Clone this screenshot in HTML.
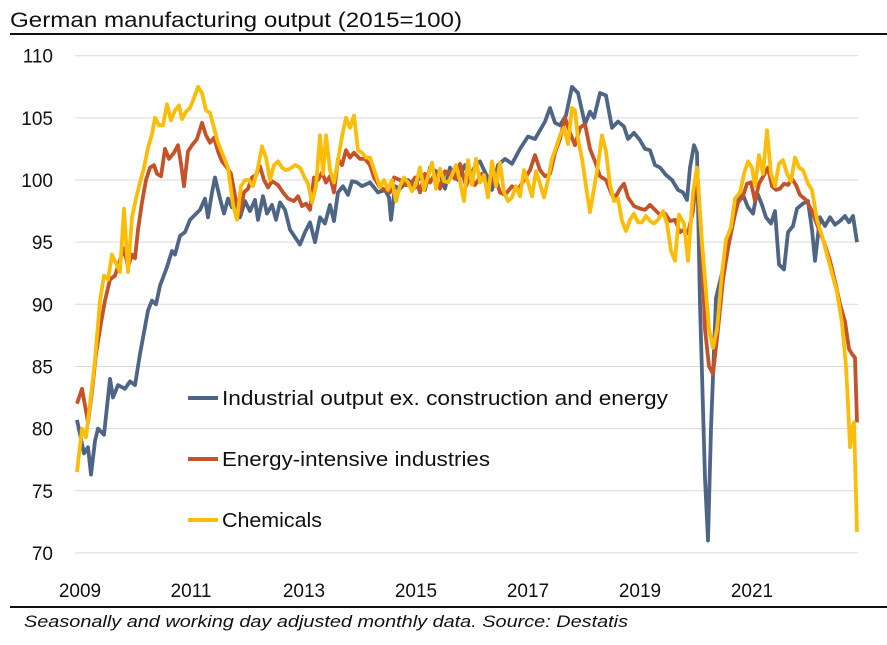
<!DOCTYPE html>
<html><head><meta charset="utf-8"><style>
body{margin:0;background:#fff;width:887px;height:640px;overflow:hidden;font-family:"Liberation Sans",sans-serif}
</style></head><body>
<svg id="s" width="887" height="640" xmlns="http://www.w3.org/2000/svg" font-family="Liberation Sans, sans-serif">
<text x="10" y="27" font-size="21" fill="#111" textLength="452" lengthAdjust="spacingAndGlyphs">German manufacturing output (2015=100)</text>
<line x1="10" y1="34" x2="887" y2="34" stroke="#111" stroke-width="2"/>
<g id="grid" stroke="#d9d9d9" stroke-width="1"></g>
<g id="ylab" font-size="19" fill="#111" text-anchor="end"></g>
<g font-size="19" fill="#111" text-anchor="middle">
<text x="80" y="597">2009</text><text x="191" y="597">2011</text><text x="304" y="597">2013</text><text x="416" y="597">2015</text><text x="528" y="597">2017</text><text x="640" y="597">2019</text><text x="752" y="597">2021</text>
</g>
<line x1="10" y1="607" x2="887" y2="607" stroke="#111" stroke-width="2"/>
<text x="24" y="627" font-size="17" font-style="italic" fill="#111" textLength="604" lengthAdjust="spacingAndGlyphs">Seasonally and working day adjusted monthly data. Source: Destatis</text>
<g id="lines" fill="none" stroke-width="3.8" stroke-linejoin="round"></g>
<g font-size="20" fill="#111">
<line x1="188" y1="398" x2="218" y2="398" stroke="#4e6585" stroke-width="4"/><text x="222" y="405" textLength="446" lengthAdjust="spacingAndGlyphs">Industrial output ex. construction and energy</text>
<line x1="188" y1="459" x2="218" y2="459" stroke="#c5532a" stroke-width="4"/><text x="222" y="466" textLength="268" lengthAdjust="spacingAndGlyphs">Energy-intensive industries</text>
<line x1="188" y1="520" x2="218" y2="520" stroke="#fbbd0a" stroke-width="4"/><text x="222" y="527" textLength="100" lengthAdjust="spacingAndGlyphs">Chemicals</text>
</g>
</svg>
<script>
var Y=function(v){return 180-(v-100)*12.43;};
var g=document.getElementById('grid'),yl=document.getElementById('ylab'),NS='http://www.w3.org/2000/svg';
for(var v=70;v<=110;v+=5){var l=document.createElementNS(NS,'line');l.setAttribute('x1',75);l.setAttribute('x2',858);l.setAttribute('y1',Y(v));l.setAttribute('y2',Y(v));g.appendChild(l);
var t=document.createElementNS(NS,'text');t.setAttribute('x',53);t.setAttribute('y',Y(v)+7);t.textContent=v;yl.appendChild(t);}
var blue=[77,80.7,84,78,88,78.5,91,76.3,95,79,98,80,104,79.5,110,84,113,82.5,118,83.5,125,83.2,130,83.8,135,83.5,140,86,148,89.5,152,90.3,156,90,160,91.5,167,93,172,94.3,175,94,180,95.5,185,95.8,190,96.8,195,97.2,200,97.6,205,98.5,208,97,212,99,215,100.2,220,98.5,224,97.3,228,98.5,232,97.8,236,98,240,97,245,98.3,250,97.5,255,98.4,258,96.8,263,98.7,267,97.3,272,98,276,96.8,280,98.2,285,97.6,290,96,295,95.4,300,94.8,305,95.8,310,96.6,315,95,320,97,325,96.5,330,98,334,96.7,338,99,343,99.5,348,98.8,352,99.9,357,99.8,362,99.5,370,99.8,378,99,385,99.2,389,98.6,391,96.8,395,99.5,400,99.3,408,100,415,99.4,420,100.5,425,99.2,430,101,440,100.5,445,99.3,450,101,458,100,465,101.2,470,100.2,476,101.3,480,101.5,487,100.3,492,99.2,498,101.2,505,101.7,512,101.3,520,102.5,528,103.5,535,103.3,545,104.7,550,105.8,555,104.6,560,104.4,566,105.2,572,107.5,578,107,585,104.5,590,105.5,594,105,600,107,606,106.8,612,104.2,618,104.7,624,104.3,628,103.3,634,103.8,640,103.2,645,102.5,650,102.4,655,101.2,660,101,666,100.4,672,100,678,99.2,683,99,687,98.4,690,101,694,102.8,697,102.2,700,90,705,76,708,71,711,80,716,90.5,722,92.5,727,94.3,733,96.5,738,98.5,743,98.8,748,97.8,753,97.3,757,99,762,98,766,97,771,96.5,775,97.5,779,93.2,784,92.8,788,95.8,793,96.3,797,97.7,803,98.1,808,98.3,812,96,815,93.5,820,97,825,96.3,830,97,835,96.4,840,96.7,845,97.1,849,96.6,853,97.1,857,95];
var orange=[77,82,82,83.2,88,80.5,92,83,96,86,101,88.5,105,90.3,110,92,115,92.3,119,93.3,124,94.5,128,93,132,94,135,93.7,138,96,142,98.2,146,100,150,101,154,101.2,157,100.5,161,100.3,165,102.5,169,101.7,174,102.2,178,102.8,181,101.3,184,99.5,188,102.3,192,102.8,197,103.3,202,104.6,206,103.6,210,103,214,103.4,218,102.3,222,101.5,227,101,231,100.5,236,98.3,240,97.4,244,99,248,99.3,252,100.2,256,100.4,260,101.1,264,100,268,99.4,272,99.9,278,99.6,283,99,288,98.5,294,98.3,298,98.7,302,97.9,306,98.1,310,97.6,314,100.2,318,100,322,100.6,326,99.8,330,100.3,334,99,338,101.7,342,101.2,346,102.4,350,101.8,354,102.2,360,101.7,365,101.7,370,101.2,374,100.2,380,99.4,386,99.2,390,99,394,100.2,400,100,405,99.6,410,99.6,415,100.2,420,99,425,100.5,430,99.8,435,100.5,440,99.3,445,100.7,450,100.6,455,100.1,460,101.3,466,99.5,470,100.3,475,99.6,482,100.5,488,99.3,494,100.6,500,99,505,98.8,512,99.5,518,99.2,524,100,530,100.8,535,102,540,100.8,545,100.3,550,100.5,555,102.2,560,103.3,565,105,570,103.8,575,102.8,580,104.2,585,104.5,590,102.5,595,101.5,600,100.3,606,100,612,98.8,616,98.7,620,99.3,624,99.7,628,98.6,634,97.9,640,97.7,645,97.6,650,98,655,97.6,660,97.2,665,97.3,670,96.7,675,96.8,680,95.8,684,96,688,95.7,693,97.5,697,101,701,96,705,88,709,85,713,84.4,718,88,723,92,728,94.5,733,96.6,738,98.2,743,98.7,747,99.7,751,99.8,755,98.3,759,99.7,764,100.4,768,101,772,99.5,776,99.2,780,99.3,784,99.7,788,99.6,792,100.1,796,99.6,800,98.8,806,98.4,812,97.5,818,96.2,824,95,830,93.5,836,91.5,840,90,845,88.6,849,86.4,852,86,855,85.7,857,80.5];
var yellow=[77,76.5,82,80,86,79.3,90,82,95,85.5,100,90.3,104,92.3,108,92,112,94,116,93.3,120,92.6,124,97.7,128,92.6,132,97,136,98.5,140,99.8,144,101,148,102.6,152,103.7,155,105,159,104.4,163,104.4,167,106.1,171,104.8,175,105.6,179,106,182,104.9,186,105.5,190,105.8,194,106.6,198,107.5,202,107,206,105.6,210,105.4,213,104.5,218,103,223,102,228,101,233,98,237,96.8,241,99.5,245,100,249,100,253,99.5,258,101,262,102.7,266,101.8,270,100,274,101.2,278,101.5,282,101,286,100.8,290,100.9,295,101.2,300,101,304,100.3,308,99.7,312,98.2,316,99.5,320,103.6,323,100.5,326,103.6,330,100.8,334,99.8,338,101.6,342,103.5,346,105,350,104.2,354,105.2,358,102.4,362,102.2,366,101.8,370,101.8,375,100.6,380,99.4,384,100,388,99.2,392,100,396,98.3,400,99.5,404,100.2,408,99.8,412,99.1,416,99.7,420,101,424,99.2,428,100.3,432,101.4,436,99.3,440,100.9,444,99.9,448,99.8,452,100.4,456,101.2,460,99.9,464,98.3,468,101.6,472,99.6,476,101.7,480,99.8,484,100.4,488,98.6,492,101.5,496,99.5,500,101.4,504,99,508,98.3,512,98.6,516,99.5,520,98.7,524,100.8,528,99.8,532,98.7,536,100.7,540,99.7,544,98.6,548,100,552,101.7,556,102.6,560,103.6,564,104.2,568,102.9,572,105.8,575,105.6,578,103.3,582,101.7,586,99.5,590,97.4,594,99.3,598,101.2,602,103.6,606,102.3,610,99.6,614,98.3,618,98.5,622,96.7,626,95.9,630,96.8,634,97.3,638,96.6,642,96.6,646,97.1,650,96.7,654,96.5,658,96.8,663,97.5,667,96.5,671,94.3,675,93.5,679,97.2,684,96.5,688,93.5,693,99,697,101,701,96,705,92,709,88,713,86.5,717,88,722,92.5,726,95.2,731,96.2,735,98.5,740,99,744,100.5,748,101.5,752,101,755,99.5,759,102,763,100.5,767,104,771,100.5,775,99.5,779,101.3,783,101.6,787,100.5,791,99.9,795,101.8,799,101,803,100.8,808,99.7,812,99.2,817,96.8,822,95.5,827,94,832,92.5,837,91,842,88.5,846,85,848,82,850,78.5,852,80,854,80.5,857,71.7];
var L=document.getElementById('lines');
[[blue,'#4e6585'],[orange,'#c5532a'],[yellow,'#fbbd0a']].forEach(function(s){var a=s[0],p=[];for(var i=0;i<a.length;i+=2)p.push(a[i]+','+Y(a[i+1]).toFixed(1));var e=document.createElementNS(NS,'polyline');e.setAttribute('points',p.join(' '));e.setAttribute('stroke',s[1]);L.appendChild(e);});
</script>
</body></html>
